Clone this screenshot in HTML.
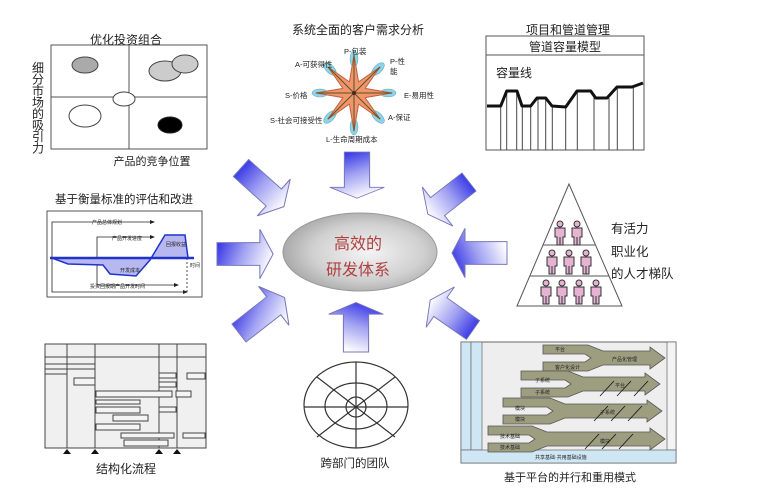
<!DOCTYPE html>
<html><head><meta charset="utf-8"><style>
html,body{margin:0;padding:0;background:#fff}
svg{display:block}
text{font-family:"Liberation Sans","Noto Sans CJK SC",sans-serif;fill:#222}
</style></head><body>
<svg width="768" height="492" viewBox="0 0 768 492" xmlns="http://www.w3.org/2000/svg">
<defs>
<linearGradient id="g0" x1="0" y1="0" x2="1" y2="0" gradientTransform="rotate(20 0.5 0.5)"><stop offset="0" stop-color="#3c3ce6"/><stop offset="0.45" stop-color="#a0a0f2"/><stop offset="1" stop-color="#ffffff"/></linearGradient>
<linearGradient id="g90" x1="0" y1="0" x2="1" y2="0" gradientTransform="rotate(-20 0.5 0.5)"><stop offset="0" stop-color="#3c3ce6"/><stop offset="0.45" stop-color="#a0a0f2"/><stop offset="1" stop-color="#ffffff"/></linearGradient>
<linearGradient id="g180" x1="1" y1="0" x2="0" y2="0" gradientTransform="rotate(-20 0.5 0.5)"><stop offset="0" stop-color="#3c3ce6"/><stop offset="0.45" stop-color="#a0a0f2"/><stop offset="1" stop-color="#ffffff"/></linearGradient>
<linearGradient id="gm90" x1="1" y1="0" x2="0" y2="0" gradientTransform="rotate(20 0.5 0.5)"><stop offset="0" stop-color="#3c3ce6"/><stop offset="0.45" stop-color="#a0a0f2"/><stop offset="1" stop-color="#ffffff"/></linearGradient>
<linearGradient id="g42" x1="0" y1="0" x2="1" y2="0"><stop offset="0" stop-color="#3c3ce6"/><stop offset="0.45" stop-color="#a0a0f2"/><stop offset="1" stop-color="#ffffff"/></linearGradient>
<linearGradient id="g142" x1="0.5" y1="1" x2="0.5" y2="0" gradientTransform="rotate(-30 0.5 0.5)"><stop offset="0" stop-color="#ffffff"/><stop offset="0.55" stop-color="#a0a0f2"/><stop offset="1" stop-color="#3c3ce6"/></linearGradient>
<linearGradient id="gm38" x1="0.5" y1="0" x2="0.5" y2="1" gradientTransform="rotate(-30 0.5 0.5)"><stop offset="0" stop-color="#3c3ce6"/><stop offset="0.45" stop-color="#a0a0f2"/><stop offset="1" stop-color="#ffffff"/></linearGradient>
<linearGradient id="gm145" x1="1" y1="0" x2="0" y2="0"><stop offset="0" stop-color="#ffffff"/><stop offset="0.55" stop-color="#a0a0f2"/><stop offset="1" stop-color="#3c3ce6"/></linearGradient>
<radialGradient id="eg" cx="0.55" cy="0.5" r="0.6">
<stop offset="0" stop-color="#f4f4f4"/><stop offset="0.6" stop-color="#d0d0d0"/><stop offset="1" stop-color="#a0a0a0"/>
</radialGradient>
<g id="person">
<circle cx="0" cy="-9" r="3" fill="#e6b3d3" stroke="#333" stroke-width="1"/>
<path d="M-5,-5 H5 V4 H3 V12 H-3 V4 H-5 Z" fill="#e6b3d3" stroke="#333" stroke-width="1"/>
<line x1="0" y1="4" x2="0" y2="12" stroke="#333" stroke-width="1"/>
</g>
</defs>

<!-- Top-left portfolio -->
<text x="126" y="44" font-size="12" text-anchor="middle">优化投资组合</text>
<rect x="51" y="45" width="156" height="104" fill="#fff" stroke="#555" stroke-width="1"/>
<line x1="129" y1="45" x2="129" y2="149" stroke="#555"/>
<line x1="51" y1="97" x2="207" y2="97" stroke="#555"/>
<ellipse cx="85" cy="65" rx="13" ry="8" fill="#aaa" stroke="#444"/>
<ellipse cx="165" cy="71" rx="16" ry="10" fill="#ccc" stroke="#444"/>
<ellipse cx="185" cy="64" rx="13" ry="9" fill="#ccc" stroke="#444"/>
<ellipse cx="124" cy="99" rx="11" ry="7" fill="#fff" stroke="#444"/>
<ellipse cx="85" cy="116" rx="16" ry="11" fill="#fff" stroke="#444"/>
<ellipse cx="170" cy="125" rx="12" ry="8" fill="#000" stroke="#222"/>
<g font-size="12" text-anchor="middle">
<text x="38" y="72">细</text><text x="38" y="83.5">分</text><text x="38" y="95">市</text><text x="38" y="106.5">场</text><text x="38" y="118">的</text><text x="38" y="129.5">吸</text><text x="38" y="141">引</text><text x="38" y="152.5">力</text>
</g>
<text x="152" y="165" font-size="11" text-anchor="middle">产品的竞争位置</text>

<!-- Star -->
<text x="358" y="34" font-size="12" text-anchor="middle">系统全面的客户需求分析</text>
<g fill="#8fd3ea" stroke="#5aa" stroke-width="0.5">
<ellipse cx="354" cy="59" rx="4" ry="8"/><ellipse cx="354" cy="127" rx="4" ry="8"/>
<ellipse cx="320" cy="93" rx="8" ry="4"/><ellipse cx="388" cy="93" rx="8" ry="4"/>
<ellipse cx="378" cy="69" rx="4" ry="8" transform="rotate(45 378 69)"/>
<ellipse cx="330" cy="117" rx="4" ry="8" transform="rotate(45 330 117)"/>
<ellipse cx="330" cy="69" rx="4" ry="8" transform="rotate(-45 330 69)"/>
<ellipse cx="378" cy="117" rx="4" ry="8" transform="rotate(-45 378 117)"/>
</g>
<polygon points="354,55 358.6,81.9 380,67 365.1,88.4 392,93 365.1,97.6 380,119 358.6,104.1 354,131 349.4,104.1 328,119 342.9,97.6 316,93 342.9,88.4 328,67 349.4,81.9" fill="#f2946c" stroke="#c06040" stroke-width="1" stroke-linejoin="round"/>
<g stroke="#552" stroke-width="1">
<line x1="354" y1="55" x2="354" y2="131"/><line x1="316" y1="93" x2="392" y2="93"/>
<line x1="328" y1="67" x2="380" y2="119"/><line x1="380" y1="67" x2="328" y2="119"/>
</g>
<circle cx="354" cy="93" r="2" fill="#522"/>
<g font-size="7.5" fill="#444">
<text x="344" y="54">P-包装</text>
<text x="295" y="67">A-可获得性</text>
<text x="390" y="64">P-性</text><text x="390" y="74">能</text>
<text x="285" y="98">S-价格</text>
<text x="404" y="98">E-易用性</text>
<text x="270" y="123">S-社会可接受性</text>
<text x="388" y="120">A-保证</text>
<text x="326" y="142">L-生命周期成本</text>
</g>

<!-- Pipeline -->
<text x="568" y="34" font-size="12" text-anchor="middle">项目和管道管理</text>
<rect x="486" y="36" width="158" height="114" fill="#fff" stroke="#555"/>
<line x1="486" y1="55" x2="644" y2="55" stroke="#555"/>
<text x="565" y="51" font-size="12" text-anchor="middle">管道容量模型</text>
<text x="496" y="77" font-size="12">容量线</text>
<g stroke="#444" stroke-width="1">
<line x1="500.7" y1="106" x2="500.7" y2="150"/><line x1="506.7" y1="91" x2="506.7" y2="150"/>
<line x1="516.7" y1="91" x2="516.7" y2="150"/><line x1="522.3" y1="106" x2="522.3" y2="150"/>
<line x1="530.7" y1="106" x2="530.7" y2="150"/><line x1="538" y1="98" x2="538" y2="150"/>
<line x1="545.7" y1="98" x2="545.7" y2="150"/><line x1="552.3" y1="106" x2="552.3" y2="150"/>
<line x1="565.7" y1="107" x2="565.7" y2="150"/><line x1="577.3" y1="91" x2="577.3" y2="150"/>
<line x1="594" y1="95" x2="594" y2="150"/><line x1="609" y1="98" x2="609" y2="150"/>
<line x1="617.3" y1="87" x2="617.3" y2="150"/><line x1="633.3" y1="87" x2="633.3" y2="150"/>
</g>
<polyline points="487,106 500.7,106 506.7,91 517,91 522,106 530.7,106 537,98 545.7,98 552,106 565.7,107 577,91 590.7,91 595.7,98 607,98 617,87 632,87 643,83" fill="none" stroke="#111" stroke-width="3" stroke-linejoin="round"/>

<!-- Evaluation -->
<text x="124" y="203" font-size="11.5" text-anchor="middle">基于衡量标准的评估和改进</text>
<rect x="47" y="211" width="155" height="86" fill="#fff" stroke="#555"/>
<g stroke="#222" stroke-width="0.8" fill="none">
<polyline points="52,258 52,222 150,222"/>
<polyline points="97,258 97,237 150,237"/>
<polyline points="97,258 97,285 174,285"/>
<polyline points="52,258 52,292 183,292"/>
<line x1="187" y1="258" x2="187" y2="292" stroke-dasharray="2,2"/>
</g>
<g fill="#222"><path d="M150,220 l5,2 -5,2Z"/><path d="M150,235 l5,2 -5,2Z"/><path d="M174,283 l5,2 -5,2Z"/><path d="M183,290 l5,2 -5,2Z"/></g>
<path d="M52,258 L68,264 L103,265 L110,274 L136,276 L150,260 L165,235 L185,235 L188,258 Z" fill="#b8b8f0" stroke="#2233cc" stroke-width="1.5"/>
<line x1="50" y1="258" x2="194" y2="258" stroke="#2233cc" stroke-width="2.5"/>
<g font-size="5" fill="#333"><text x="92" y="224">产品总体规划</text><text x="112" y="240">产品开发进度</text><text x="166" y="246">回报收益</text><text x="120" y="272">开发成本</text><text x="90" y="288">投资回报期产品开发时间</text><text x="190" y="267">时间</text></g>

<!-- Gantt -->
<rect x="45" y="344" width="161" height="104" fill="#f0f0f0" stroke="#444"/>
<g stroke="#444" stroke-width="1">
<line x1="45" y1="357" x2="206" y2="357"/>
<line x1="67" y1="344" x2="67" y2="448"/><line x1="95" y1="344" x2="95" y2="448"/>
<line x1="159" y1="344" x2="159" y2="448"/><line x1="177" y1="344" x2="177" y2="448"/>
<line x1="45" y1="364" x2="95" y2="364"/><line x1="45" y1="369" x2="95" y2="369"/><line x1="45" y1="374" x2="67" y2="374"/>
</g>
<g fill="#f4f4f4" stroke="#444" stroke-width="1">
<rect x="74" y="378" width="21" height="7"/><rect x="96" y="391" width="76" height="6"/><rect x="176" y="391" width="15" height="6"/>
<rect x="96" y="400" width="44" height="4"/><rect x="96" y="407" width="44" height="6"/><rect x="113" y="415" width="35" height="6"/>
<rect x="96" y="424" width="44" height="6"/><rect x="121" y="433" width="53" height="5"/><rect x="124" y="440" width="44" height="6"/>
<rect x="159" y="373" width="17" height="5"/><rect x="159" y="382" width="17" height="5"/><rect x="159" y="407" width="17" height="5"/>
<rect x="187" y="373" width="18" height="6"/><rect x="183" y="433" width="22" height="5"/>
</g>
<g fill="#111"><path d="M67,449 l-4,5 h8z"/><path d="M95,449 l-4,5 h8z"/><path d="M159,449 l-4,5 h8z"/><path d="M177,449 l-4,5 h8z"/></g>
<text x="126" y="473" font-size="12" text-anchor="middle">结构化流程</text>

<!-- Team circle -->
<g fill="none" stroke="#333" stroke-width="1.2">
<ellipse cx="356" cy="405" rx="52" ry="43"/>
<ellipse cx="356" cy="406" rx="31" ry="23"/>
<ellipse cx="356" cy="407" rx="10" ry="10"/>
<line x1="356" y1="362" x2="356" y2="448"/><line x1="304" y1="407" x2="408" y2="407"/>
<line x1="317" y1="377" x2="395" y2="437"/><line x1="395" y1="377" x2="317" y2="437"/>
</g>
<text x="355" y="467" font-size="11.5" text-anchor="middle">跨部门的团队</text>

<!-- Pyramid -->
<polygon points="569,184 517,306 622,306" fill="#fff" stroke="#555"/>
<line x1="543" y1="245" x2="595" y2="245" stroke="#555"/>
<line x1="530" y1="276" x2="609" y2="276" stroke="#555"/>
<use href="#person" x="560" y="233"/><use href="#person" x="577" y="233"/>
<use href="#person" x="552" y="262"/><use href="#person" x="569" y="262"/><use href="#person" x="586" y="262"/>
<use href="#person" x="546" y="292"/><use href="#person" x="562" y="292"/><use href="#person" x="579" y="292"/><use href="#person" x="596" y="292"/>
<g font-size="12.5"><text x="611" y="233">有活力</text><text x="611" y="256">职业化</text><text x="611" y="278">的人才梯队</text></g>

<!-- Platform -->
<rect x="461" y="342" width="215" height="121" fill="#eee" stroke="#666"/>
<rect x="461" y="342" width="10" height="108" fill="#cfe7f5" stroke="#666" stroke-width="0.7"/>
<rect x="471" y="342" width="11" height="108" fill="#cfe7f5" stroke="#666" stroke-width="0.7"/>
<rect x="667" y="342" width="9" height="108" fill="#f4f4f4" stroke="#666" stroke-width="0.7"/>
<rect x="461" y="450" width="215" height="13" fill="#cfe7f5" stroke="#666" stroke-width="0.7"/>
<g fill="#9d9d80" stroke="#555" stroke-width="0.8">
<path d="M543,345 H588 L603,351 H650 V347 L665,358 L650,369 V365 H603 L588,371 H543 V362 H585 L591,358 L585,354 H543 Z"/>
<path d="M521,371 H568 L583,377 H645 V373 L660,384 L645,395 V391 H583 L568,397 H521 V388 H565 L571,384 L565,380 H521 Z"/>
<path d="M503,398 H550 L565,404 H647 V400 L662,411 L647,422 V418 H565 L550,424 H503 V415 H547 L553,411 L547,407 H503 Z"/>
<path d="M488,426 H532 L547,432 H650 V428 L665,439 L650,450 V446 H547 L532,452 H488 V443 H529 L535,439 L529,435 H488 Z"/>
</g>
<g stroke="#111" stroke-width="0.8">
<line x1="600" y1="396" x2="614" y2="381"/><line x1="617" y1="396" x2="631" y2="381"/><line x1="634" y1="396" x2="648" y2="381"/>
<line x1="594" y1="421" x2="608" y2="406"/><line x1="611" y1="421" x2="625" y2="406"/><line x1="628" y1="421" x2="642" y2="406"/>
<line x1="585" y1="449" x2="599" y2="434"/><line x1="602" y1="449" x2="616" y2="434"/><line x1="619" y1="449" x2="633" y2="434"/>
</g>
<g font-size="5" fill="#333"><text x="555" y="351">平台</text><text x="555" y="369">客户化设计</text><text x="612" y="361">产品化管理</text><text x="535" y="382">子系统</text><text x="535" y="394">子系统</text><text x="615" y="387">平台</text><text x="515" y="410">模块</text><text x="515" y="421">模块</text><text x="600" y="414">子系统</text><text x="500" y="438">技术基础</text><text x="500" y="449">技术基础</text><text x="600" y="443">模块</text><text x="535" y="459">共享基础·共用基础设施</text></g>
<text x="570" y="481" font-size="11" text-anchor="middle">基于平台的并行和重用模式</text>

<!-- Center ellipse -->
<ellipse cx="360" cy="252" rx="77" ry="39" fill="url(#eg)" stroke="#999"/>
<text x="358" y="249" font-size="16" text-anchor="middle" style="fill:#b04040">高效的</text>
<text x="358" y="275" font-size="16" text-anchor="middle" style="fill:#b04040">研发体系</text>

<!-- Arrows -->
<g stroke="#7777bb" stroke-width="1">
<path d="M0,-12 H42 V-26 L55,0 L42,26 V12 H0 Z" fill="url(#g90)" transform="translate(357,152) rotate(90) scale(0.84,1.05)"/>
<path d="M0,-12 H42 V-26 L55,0 L42,26 V12 H0 Z" fill="url(#g0)" transform="translate(217,254) scale(1.02,0.95)"/>
<path d="M0,-12 H42 V-26 L55,0 L42,26 V12 H0 Z" fill="url(#g180)" transform="translate(507,253) rotate(180) scale(1,0.95)"/>
<path d="M0,-12 H42 V-26 L55,0 L42,26 V12 H0 Z" fill="url(#gm90)" transform="translate(356,352) rotate(-90) scale(0.9,1.05)"/>
<path d="M0,-12 H42 V-26 L55,0 L42,26 V12 H0 Z" fill="url(#g42)" transform="translate(241,168) rotate(42) scale(1.05,0.95)"/>
<path d="M0,-12 H42 V-26 L55,0 L42,26 V12 H0 Z" fill="url(#gm145)" transform="translate(469,182) rotate(142) scale(0.95,0.95)"/>
<path d="M0,-12 H42 V-26 L55,0 L42,26 V12 H0 Z" fill="url(#gm38)" transform="translate(239,333) rotate(-38) scale(1.05,0.95)"/>
<path d="M0,-12 H42 V-26 L55,0 L42,26 V12 H0 Z" fill="url(#gm145)" transform="translate(473,330) rotate(-145) scale(0.95,0.95)"/>
</g>
</svg>
</body></html>
